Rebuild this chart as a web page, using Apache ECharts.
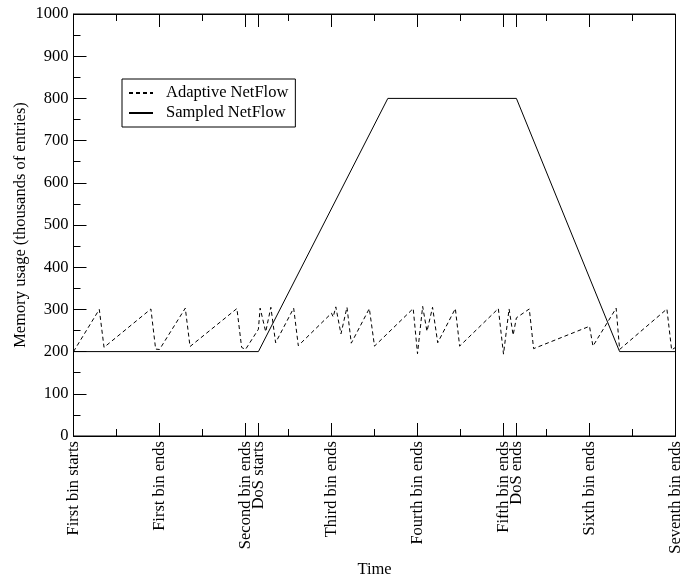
<!DOCTYPE html>
<html>
<head>
<meta charset="utf-8">
<script src="https://cdn.jsdelivr.net/npm/echarts@6/dist/echarts.min.js"></script>
<style>html,body{margin:0;padding:0;background:#fff}#c{width:696px;height:579px}</style>
</head>
<body>
<div id="c"></div>
<script>
// Tick positions (in bins) and their labels
const xTickValues = [0, 1, 2, 2.15, 3, 4, 5, 5.15, 6, 7];
const xTickLabels = ['First bin starts', 'First bin ends', 'Second bin ends', 'DoS starts',
  'Third bin ends', 'Fourth bin ends', 'Fifth bin ends', 'DoS ends', 'Sixth bin ends', 'Seventh bin ends'];

// Adaptive NetFlow (dashed)
const adaptiveX = [0, 0.30, 0.355, 0.90, 0.955, 1.0, 1.30, 1.355, 1.90, 1.955, 2.0, 2.15, 2.17, 2.235, 2.295, 2.35,
  2.56, 2.614, 3.0, 3.02, 3.05, 3.11, 3.18, 3.23, 3.44, 3.50, 3.95, 4.0, 4.06, 4.11, 4.175, 4.235, 4.44, 4.49,
  4.94, 5.0, 5.065, 5.112, 5.15, 5.30, 5.35, 6.0, 6.04, 6.31, 6.35, 6.90, 6.955, 7.0];
const adaptiveY = [200, 300, 210, 301, 206, 205, 303, 212, 302, 210, 205, 253, 303, 247, 305, 221,
  303, 214, 291, 282, 306, 242, 305, 220, 302, 213, 302, 195, 307, 248, 305, 221, 302, 213,
  302, 194, 301, 239, 280, 301, 207, 260, 213, 303, 205, 301, 204, 210];

// Sampled NetFlow (solid)
const sampledX = [0, 2.15, 3.655, 5.15, 6.35, 7];
const sampledY = [200, 200, 800, 800, 200, 200];

const FONT = 'Liberation Serif';
const FS = 16.5;

const zip = (xs, ys) => xs.map((x, i) => [x, ys[i]]);
const labelFor = v => {
  const i = xTickValues.findIndex(t => Math.abs(t - v) < 1e-6);
  return i >= 0 ? xTickLabels[i] : '';
};

const chart = echarts.init(document.getElementById('c'), null, {renderer: 'canvas'});
const base = {type: 'value', min: 0, max: 7, splitLine: {show: false}};
chart.setOption({
  animation: false,
  backgroundColor: '#fff',
  grid: {left: 73.5, right: 20.5, top: 14, bottom: 143, show: true, borderColor: '#000', borderWidth: 1,
    containLabel: false, outerBoundsMode: 'none'},
  legend: {
    orient: 'vertical', left: 122, top: 79,
    padding: [4, 7, 4, 6], itemGap: 0, itemWidth: 24, itemHeight: 14,
    borderColor: '#000', borderWidth: 1, backgroundColor: '#fff',
    itemStyle: {color: 'transparent', borderWidth: 0, opacity: 0},
    textStyle: {fontFamily: FONT, fontSize: FS, color: '#000', lineHeight: 20, padding: [0, 0, 0, 8]},
    data: ['Adaptive NetFlow', 'Sampled NetFlow']
  },
  xAxis: [
    Object.assign({}, base, {
      position: 'bottom',
      axisLine: {show: true, onZero: false, lineStyle: {color: '#000', width: 1}},
      axisTick: {show: true, inside: true, length: 13, customValues: xTickValues, lineStyle: {color: '#000'}},
      axisLabel: {show: true, customValues: xTickValues, rotate: 90, margin: 5, formatter: labelFor,
        fontFamily: FONT, fontSize: FS, color: '#000', hideOverlap: false},
      name: 'Time', nameLocation: 'middle', nameGap: 124,
      nameTextStyle: {fontFamily: FONT, fontSize: FS, color: '#000'}
    }),
    Object.assign({}, base, {
      position: 'bottom', interval: 0.5,
      axisLine: {show: false, onZero: false},
      axisTick: {show: true, inside: true, length: 7, lineStyle: {color: '#000'}},
      axisLabel: {show: false}
    }),
    Object.assign({}, base, {
      position: 'top',
      axisLine: {show: true, onZero: false, lineStyle: {color: '#000'}},
      axisTick: {show: true, inside: true, length: 13, customValues: xTickValues, lineStyle: {color: '#000'}},
      axisLabel: {show: false}
    }),
    Object.assign({}, base, {
      position: 'top', interval: 0.5,
      axisLine: {show: false, onZero: false},
      axisTick: {show: true, inside: true, length: 7, lineStyle: {color: '#000'}},
      axisLabel: {show: false}
    })
  ],
  yAxis: [{
    type: 'value', min: 0, max: 1000, interval: 100, position: 'left',
    splitLine: {show: false},
    axisLine: {show: true, onZero: false, lineStyle: {color: '#000'}},
    axisTick: {show: true, inside: true, length: 13, lineStyle: {color: '#000'}},
    minorTick: {show: true, splitNumber: 2, length: 7, lineStyle: {color: '#000'}},
    axisLabel: {margin: 5, fontFamily: FONT, fontSize: FS, color: '#000', formatter: v => String(v)},
    name: 'Memory usage (thousands of entries)', nameLocation: 'middle', nameGap: 44,
    nameMoveOverlap: false,
    nameTextStyle: {fontFamily: FONT, fontSize: FS, color: '#000'}
  }],
  series: [
    {
      name: 'Adaptive NetFlow', type: 'line', xAxisIndex: 0, yAxisIndex: 0,
      symbol: 'none', showSymbol: false,
      lineStyle: {color: '#000', width: 1, type: [4, 3]},
      itemStyle: {color: '#000'},
      data: zip(adaptiveX, adaptiveY)
    },
    {
      name: 'Sampled NetFlow', type: 'line', xAxisIndex: 0, yAxisIndex: 0,
      symbol: 'none', showSymbol: false,
      lineStyle: {color: '#000', width: 1, type: 'solid'},
      itemStyle: {color: '#000'},
      data: zip(sampledX, sampledY)
    }
  ]
});
</script>
</body>
</html>
